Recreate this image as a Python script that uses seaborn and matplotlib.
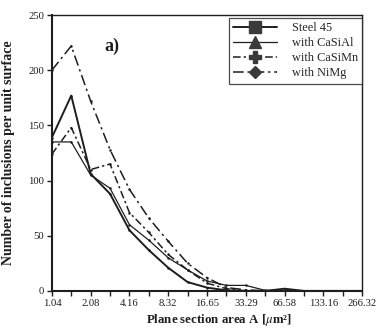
import numpy as np
import pandas as pd
import matplotlib
matplotlib.use("Agg")
import matplotlib.pyplot as plt
import seaborn as sns
from matplotlib.lines import Line2D

sns.set_style("ticks")
plt.rcParams["font.family"] = ["Liberation Serif", "DejaVu Serif"]
plt.rcParams["mathtext.fontset"] = "stix"

# plane section area classes (um^2), half log2 steps
area = [1.04, 1.47, 2.08, 2.94, 4.16, 5.88, 8.32, 11.77, 16.65,
        23.54, 33.29, 47.08, 66.58, 94.16, 133.16, 188.32, 266.32]
tick_labels = ["1.04", "2.08", "4.16", "8.32", "16.65", "33.29",
               "66.58", "133.16", "266.32"]

steel45 = [139, 177, 106, 88, 55, 37, 21, 8, 3, 0.5, 0, 0, 2, 0, 0, 0, 0]
casial = [135, 135, 105, 93, 60, 46, 30, 19, 9, 5, 5, 0.5, 0, 0, 0, 0, 0]
casimn = [124, 148, 110, 115, 71, 53, 33, 19, 7, 2, 0, 0, 0, 0, 0, 0, 0]
nimg = [200, 222, 172, 128, 92, 66, 45, 25, 12, 3, 1, 0, 0, 0, 0, 0, 0]

series = {"Steel 45": steel45, "with CaSiAl": casial,
          "with CaSiMn": casimn, "with NiMg": nimg}
styles = {
    "Steel 45": dict(ls="-", lw=1.4, m="s", ms=8),
    "with CaSiAl": dict(ls="-", lw=0.9, m="^", ms=8),
    "with CaSiMn": dict(ls=(0, (5, 2, 1.5, 2)), lw=1.1, m="P", ms=8),
    "with NiMg": dict(ls=(0, (7, 2.5, 1.5, 2.5)), lw=1.1, m="D", ms=6.5),
}
ink = "#1e1e1e"

fig = plt.figure(figsize=(3.76, 3.34), dpi=100)
ax = fig.add_axes([0.138, 0.129, 0.825, 0.826])

for name, vals in series.items():
    st = styles[name]
    sns.lineplot(x=area, y=vals, ax=ax, color=ink, linestyle=st["ls"],
                 linewidth=st["lw"], marker="o", markersize=1.8,
                 markeredgewidth=0, legend=False)

ax.set_xscale("log", base=2)
ax.set_xlim(1.04, 266.32)
ax.set_ylim(0, 250)
ax.set_xticks(area, minor=False)
ax.set_xticklabels([tick_labels[i // 2] if i % 2 == 0 else ""
                    for i in range(len(area))])
ax.minorticks_off()
ax.set_yticks([0, 50, 100, 150, 200, 250])
ax.tick_params(axis="both", direction="out", length=3.5, width=1.0,
               labelsize=7.7, colors=ink, pad=2)

for s in ["left", "bottom"]:
    ax.spines[s].set_linewidth(1.5)
for s in ["top", "right"]:
    ax.spines[s].set_linewidth(1.0)
for s in ax.spines.values():
    s.set_color(ink)

ax.set_xlabel("Plane section area A [$\\mu$m²]", fontsize=9.3,
              fontweight="bold", color=ink)
ax.xaxis.set_label_coords(0.54, -0.075)
ax.set_ylabel("Number of inclusions per unit surface", fontsize=10,
              fontweight="bold", color=ink)
ax.yaxis.set_label_coords(-0.118, 0.5)

ax.text(0.17, 0.87, "a)", transform=ax.transAxes, fontsize=13,
        fontweight="bold", color=ink)

handles = [Line2D([0], [0], color=ink, linestyle=styles[n]["ls"],
                  linewidth=styles[n]["lw"], marker=styles[n]["m"],
                  markersize=styles[n]["ms"], markerfacecolor="#3a3a3a",
                  markeredgecolor="#3a3a3a") for n in series]
leg = ax.legend(handles, list(series.keys()), loc="upper right",
                bbox_to_anchor=(1.0, 0.99), fontsize=8.8, frameon=True,
                fancybox=False, edgecolor=ink, handlelength=3.6,
                handletextpad=1.2, labelspacing=0.25, borderpad=0.35,
                borderaxespad=0.0)
leg.get_frame().set_linewidth(0.9)

fig.savefig("out.png", dpi=100)
